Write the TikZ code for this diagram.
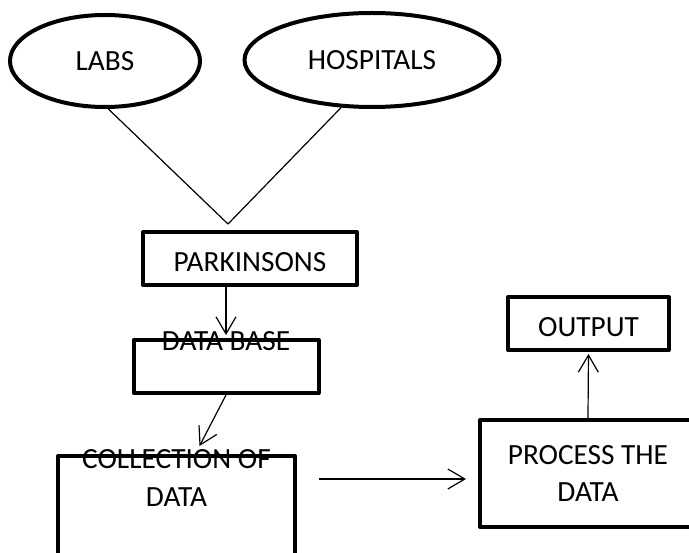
\documentclass[tikz,border=0pt]{standalone}
\usepackage{fontspec}
\setmainfont{Carlito}
\usetikzlibrary{shapes.geometric, arrows.meta}
\tikzstyle{source} = [ellipse, line width=4pt, draw=black, inner sep=0pt]
\tikzstyle{block} = [rectangle, line width=4pt, line join=round, draw=black, inner sep=0pt]
\tikzstyle{tbox} = [block, text height=26pt, text depth=0pt]
\tikzstyle{feed} = [line width=1.2pt]
\tikzstyle{arrow} = [line width=1.2pt, -{Straight Barb[length=17pt, width=20pt]}]

\begin{document}
\begin{tikzpicture}[x=1pt, y=-1pt, font=\fontsize{29.3}{37}\selectfont]
        \useasboundingbox (0,0) rectangle (689,553);
        \clip (0,0) rectangle (689,553);
        \node (labs) [source, minimum width=190pt, minimum height=92pt] at (105,61) {LABS};
        \node (hosp) [source, minimum width=255pt, minimum height=94pt] at (372,60) {HOSPITALS};
        \coordinate (join) at (228,224);
        \node (park) [tbox, minimum width=214pt, minimum height=53pt] at (250,258.5) {PARKINSONS};
        \node (db) [tbox, minimum width=185pt, minimum height=53pt,
                label={[anchor=north, yshift=7pt, inner sep=0pt]north:DATA BASE}] at (226,366.5) {};
        \node (collect) [block, minimum width=237pt, minimum height=150pt,
                label={[anchor=north, yshift=5pt, inner sep=0pt, align=center, font=\fontsize{29.3}{38}\selectfont]north:COLLECTION OF\\DATA}] at (176.5,531) {};
        \node (process) [block, minimum width=216pt, minimum height=107pt, align=center] at (588,473.5) {PROCESS THE\\DATA};
        \node (output) [tbox, minimum width=161pt, minimum height=53pt] at (588.5,323.5) {OUTPUT};
        \coordinate (feedin) at ([xshift=-12pt, yshift=-5.5pt]process.west);

        \draw [feed] (labs.-86) -- (join);
        \draw [feed] (hosp.-123) -- (join);
        \draw [arrow, shorten >=3pt] (park.south -| db.north) -- (db.north);
        \draw [arrow] (db.south) -- ([xshift=23pt, yshift=8pt]collect.north);
        \draw [arrow, shorten <=22pt] (collect.east |- feedin) -- (feedin);
        \draw [arrow, shorten >=2pt] (process.north) -- (output.south);
      \end{tikzpicture}
\end{document}
